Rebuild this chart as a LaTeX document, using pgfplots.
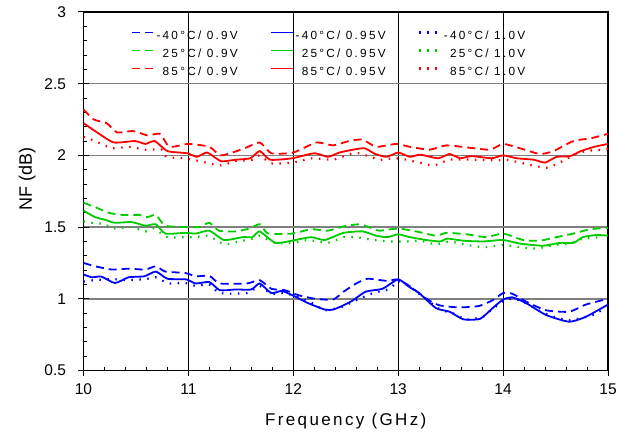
\documentclass[border=0pt]{standalone}
\usepackage{fontspec}
\setmainfont{Liberation Sans}
\newfontfamily\legfont[LetterSpace=19]{Liberation Sans}
\newfontfamily\labfont[LetterSpace=14]{Liberation Sans}
\usepackage{pgfplots}
\pgfplotsset{compat=1.18}
\definecolor{nfblue}{RGB}{0,0,255}
\definecolor{nfgreen}{RGB}{0,204,0}
\definecolor{nfred}{RGB}{255,0,0}
\definecolor{gridgray}{RGB}{128,128,128}

\begin{document}
\begin{tikzpicture}
\begin{axis}[
    width=524.5pt, height=358.5pt, scale only axis,
    xmin=10, xmax=15, ymin=0.5, ymax=3,
    xtick={10,...,15}, ytick={0.5,1,...,3},
    minor x tick num=4, minor y tick num=4,
    tick pos=left, tick align=inside,
    major tick length=5pt, minor tick length=4pt,
    extra x ticks={10,...,15}, extra y ticks={0.5,1,...,3},
    extra x tick labels={}, extra y tick labels={},
    extra tick style={grid=none, tick align=outside, major tick length=5pt},
    xmajorgrids, ymajorgrids,
    x grid style={black, line width=0.9pt},
    y grid style={gridgray, line width=1.6pt},
    axis line style={line width=1.8pt},
    every tick/.style={black, line width=1pt},
    ticklabel style={font=\fontsize{15.5}{18}\selectfont},
    /pgf/number format/assume math mode=true,
    yticklabel style={xshift=-14pt},
    xticklabel style={yshift=-9.5pt},
    xlabel={\labfont Frequency (GHz)},
    ylabel={NF (dB)},
    every axis x label/.style={at={(rel axis cs:0.5,0)}, yshift=-55pt, anchor=base, font=\fontsize{17}{20}\selectfont},
    every axis y label/.style={at={(rel axis cs:0,0.535)}, xshift=-51.5pt, rotate=90, anchor=base, font=\fontsize{18}{21}\selectfont},
    legend columns=3,
    legend cell align=right,
    legend style={at={(axis description cs:0.0906,0.952)}, anchor=north west,
        draw=none, fill=none, inner sep=0pt,
        font=\legfont\fontsize{11.8}{13}\selectfont, row sep=4pt,
        /tikz/every even column/.append style={column sep=31pt},
        nodes={inner sep=1.5pt, text height=8.5pt, text depth=2.5pt}},
    legend image code/.code={\draw[#1] (0pt,4pt) -- (22pt,4pt);},
    every axis plot/.append style={smooth, tension=0.35},
]

% -40 C
\addplot[color=nfblue, line width=1.8pt, dash pattern=on 8pt off 5pt] coordinates {
(10.00,1.25)(10.11,1.227)(10.27,1.204)(10.43,1.21)(10.59,1.204)(10.69,1.227)
(10.78,1.19)(10.97,1.18)(11.07,1.157)(11.20,1.16)(11.30,1.107)(11.56,1.107)
(11.68,1.13)(11.79,1.07)(11.92,1.06)(12.05,1.025)(12.21,1.00)(12.38,0.995)
(12.48,1.05)(12.60,1.107)(12.71,1.14)(12.89,1.125)(13.00,1.135)(13.12,1.083)
(13.27,1.00)(13.39,0.955)(13.58,0.94)(13.77,0.95)(13.90,0.99)(14.00,1.04)
(14.09,1.035)(14.22,0.98)(14.41,0.92)(14.63,0.91)(14.79,0.96)(15.00,1.00)};
\addlegendentry{-40°C/ 0.9V}
\addplot[color=nfblue, line width=1.8pt, solid] coordinates {
(10.00,1.17)(10.08,1.15)(10.17,1.155)(10.30,1.11)(10.43,1.15)(10.58,1.157)
(10.69,1.19)(10.80,1.14)(10.98,1.135)(11.07,1.107)(11.20,1.117)(11.30,1.06)
(11.45,1.065)(11.60,1.065)(11.68,1.107)(11.79,1.04)(11.89,1.055)(11.99,1.025)
(12.14,0.97)(12.30,0.925)(12.38,0.925)(12.48,0.955)(12.57,0.99)(12.69,1.05)
(12.85,1.07)(13.00,1.135)(13.11,1.08)(13.20,1.04)(13.36,0.935)(13.49,0.91)
(13.62,0.857)(13.78,0.86)(13.90,0.935)(14.00,0.995)(14.09,1.01)(14.22,0.97)
(14.41,0.887)(14.63,0.84)(14.79,0.875)(15.00,0.96)};
\addlegendentry{-40°C/ 0.95V}
\addplot[color=nfblue, line width=2.2pt, dash pattern=on 1.5pt off 6.5pt] coordinates {
(10.00,1.12)(10.10,1.13)(10.27,1.137)(10.43,1.13)(10.59,1.137)(10.69,1.15)
(10.81,1.107)(10.97,1.11)(11.07,1.09)(11.20,1.10)(11.30,1.04)(11.56,1.04)
(11.68,1.09)(11.79,1.035)(11.92,1.04)(12.05,1.01)(12.18,0.97)(12.30,0.92)
(12.45,0.94)(12.60,0.99)(12.76,1.04)(12.92,1.07)(13.00,1.125)(13.12,1.08)
(13.39,0.93)(13.52,0.90)(13.65,0.855)(13.81,0.875)(13.90,0.93)(14.03,0.995)
(14.16,0.99)(14.35,0.915)(14.48,0.875)(14.63,0.85)(14.85,0.885)(14.98,0.94)};
\addlegendentry{-40°C/ 1.0V}

% 25 C
\addplot[color=nfgreen, line width=1.8pt, dash pattern=on 8pt off 5pt] coordinates {
(10.00,1.67)(10.11,1.64)(10.24,1.60)(10.37,1.585)(10.53,1.585)(10.61,1.57)
(10.69,1.585)(10.78,1.51)(11.00,1.50)(11.10,1.50)(11.20,1.53)(11.29,1.475)
(11.45,1.47)(11.58,1.49)(11.68,1.52)(11.76,1.455)(11.99,1.455)(12.17,1.485)
(12.33,1.475)(12.48,1.505)(12.63,1.52)(12.72,1.50)(12.82,1.475)(13.00,1.49)
(13.17,1.47)(13.36,1.44)(13.46,1.46)(13.65,1.45)(13.84,1.43)(14.00,1.455)
(14.19,1.41)(14.35,1.405)(14.51,1.43)(14.67,1.455)(14.83,1.485)(15.00,1.495)};
\addlegendentry{25°C/ 0.9V}
\addplot[color=nfgreen, line width=1.8pt, solid] coordinates {
(10.00,1.615)(10.11,1.57)(10.21,1.55)(10.30,1.53)(10.46,1.535)(10.59,1.51)
(10.69,1.52)(10.78,1.455)(10.97,1.46)(11.07,1.455)(11.20,1.475)(11.34,1.41)
(11.52,1.43)(11.61,1.43)(11.68,1.47)(11.83,1.39)(12.02,1.41)(12.17,1.43)
(12.30,1.41)(12.48,1.46)(12.66,1.47)(12.79,1.44)(12.90,1.43)(13.00,1.45)
(13.11,1.43)(13.27,1.41)(13.40,1.40)(13.47,1.42)(13.62,1.405)(13.81,1.40)
(14.00,1.41)(14.16,1.385)(14.38,1.37)(14.54,1.39)(14.67,1.39)(14.76,1.43)
(14.89,1.445)(15.00,1.44)};
\addlegendentry{25°C/ 0.95V}
\addplot[color=nfgreen, line width=2.2pt, dash pattern=on 1.5pt off 6.5pt] coordinates {
(10.00,1.54)(10.08,1.53)(10.21,1.52)(10.27,1.49)(10.46,1.50)(10.59,1.47)
(10.67,1.49)(10.80,1.43)(10.97,1.43)(11.07,1.43)(11.19,1.44)(11.34,1.38)
(11.49,1.40)(11.61,1.42)(11.68,1.44)(11.83,1.39)(11.99,1.39)(12.14,1.41)
(12.33,1.39)(12.48,1.43)(12.60,1.43)(12.76,1.41)(12.92,1.40)(13.08,1.40)
(13.21,1.405)(13.36,1.38)(13.49,1.40)(13.62,1.38)(13.81,1.36)(14.00,1.375)
(14.16,1.36)(14.32,1.35)(14.48,1.375)(14.64,1.385)(14.76,1.42)(14.95,1.43)};
\addlegendentry{25°C/ 1.0V}

% 85 C
\addplot[color=nfred, line width=1.8pt, dash pattern=on 8pt off 5pt] coordinates {
(10.00,2.32)(10.10,2.25)(10.22,2.225)(10.32,2.16)(10.47,2.17)(10.61,2.14)
(10.73,2.15)(10.82,2.06)(11.00,2.08)(11.20,2.06)(11.31,2.00)(11.52,2.045)
(11.68,2.09)(11.79,2.015)(12.00,2.02)(12.22,2.09)(12.38,2.07)(12.53,2.10)
(12.66,2.11)(12.79,2.06)(12.98,2.08)(13.11,2.06)(13.30,2.04)(13.46,2.07)
(13.72,2.05)(13.88,2.04)(14.00,2.08)(14.16,2.05)(14.35,2.01)(14.48,2.03)
(14.67,2.10)(14.84,2.12)(15.00,2.15)};
\addlegendentry{85°C/ 0.9V}
\addplot[color=nfred, line width=1.8pt, solid] coordinates {
(10.00,2.225)(10.14,2.155)(10.29,2.09)(10.49,2.10)(10.59,2.08)(10.68,2.10)
(10.80,2.03)(10.99,2.015)(11.08,1.99)(11.18,2.02)(11.31,1.96)(11.45,1.97)
(11.59,1.98)(11.68,2.03)(11.78,1.97)(11.99,1.98)(12.20,2.015)(12.33,1.99)
(12.44,2.02)(12.57,2.04)(12.68,2.05)(12.78,2.01)(12.89,1.99)(13.00,2.02)
(13.11,1.99)(13.21,2.005)(13.38,1.98)(13.49,2.01)(13.59,1.98)(13.70,1.995)
(13.89,1.98)(14.00,2.00)(14.13,1.98)(14.29,1.97)(14.40,1.95)(14.51,1.99)
(14.64,1.995)(14.74,2.03)(14.87,2.06)(15.00,2.08)};
\addlegendentry{85°C/ 0.95V}
\addplot[color=nfred, line width=2.2pt, dash pattern=on 1.5pt off 6.5pt] coordinates {
(10.00,2.13)(10.11,2.10)(10.27,2.05)(10.43,2.06)(10.59,2.04)(10.75,2.04)
(10.79,1.99)(10.95,1.98)(11.11,1.96)(11.30,1.93)(11.45,1.96)(11.61,1.97)
(11.68,2.00)(11.79,1.945)(11.99,1.95)(12.18,1.98)(12.38,1.97)(12.54,2.01)
(12.63,2.015)(12.82,1.97)(12.95,1.98)(13.08,1.97)(13.33,1.93)(13.49,1.97)
(13.72,1.97)(13.94,1.965)(14.03,1.97)(14.19,1.945)(14.35,1.92)(14.43,1.915)
(14.54,1.95)(14.67,2.00)(14.79,2.03)(14.95,2.04)(15.00,2.045)};
\addlegendentry{85°C/ 1.0V}
\end{axis}
\pgfresetboundingbox
\path (-83.5pt,-63.5pt) rectangle (547.5pt,370.5pt);
\end{tikzpicture}
\end{document}
